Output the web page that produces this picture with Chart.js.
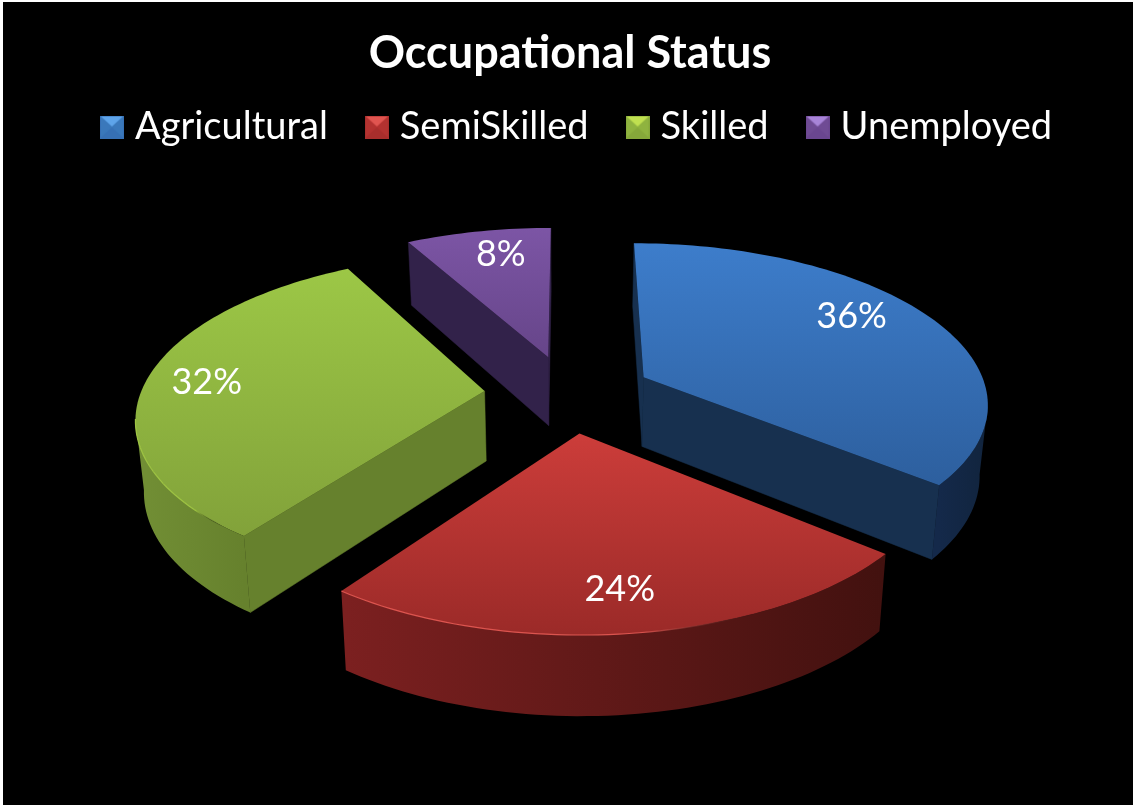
<!DOCTYPE html>
<html>
<head>
<meta charset="utf-8">
<title>Occupational Status</title>
<script src="https://cdn.jsdelivr.net/npm/chart.js@4/dist/chart.umd.min.js"></script>
<style>
  html, body { margin: 0; padding: 0; background: #fff; overflow: hidden; }
  #box { position: absolute; left: 3px; top: 2px; width: 1130px; height: 803px; background: #000; }
  canvas { display: block; }
</style>
</head>
<body>
<div id="box"><canvas id="pie" width="1130" height="803"></canvas></div>
<script>
const chartTitle = 'Occupational Status';
const categories = ['Agricultural', 'SemiSkilled', 'Skilled', 'Unemployed'];
const shares = [36, 24, 32, 8];

// slice colours: top face gradient, cut faces, outer wall gradient, rim line
const sliceBase = ['#3a78bb', '#b33230', '#8fb33f', '#6f4b94'];
const topFrom = ['#3d7dcb', '#cc3d3a', '#9cc746', '#7c55a5'];
const topTo = ['#2d5f9e', '#9b2a28', '#82a23a', '#664589'];
const cutColor = ['#17304f', '#4a1512', '#66812d', '#32224a'];
const wallFrom = ['#14294a', '#7c2020', '#728f35', '#32224a'];
const wallTo = ['#11243d', '#42110f', '#66812d', '#32224a'];
const rimColor = ['rgba(45,95,158,0)', 'rgba(232,90,84,0.9)', 'rgba(165,204,69,0.9)', 'rgba(124,85,165,0)'];
const swatchLight = ['#5ea4ea', '#e05550', '#c0e050', '#a884d8'];
const swatchDark = ['#3670b5', '#a82e2c', '#86a83a', '#6a4690'];
const labelShift = [[-22, -11], [-2, 2], [-6.5, -1], [10, 0]];

// camera fitted to the picture: perspective on a unit disc
const CX = 565.5, CY = 391.5, SX = 344, SY = 158.4, PERSP = 0.1486, DEPTH = 71.4, EXPLODE = 0.245;

function project(X, Y, down) {
  let w = 1 - PERSP * Y;
  if (down) w *= 1.02;
  return { x: CX + SX * X / w, y: CY + (SY * Y + (down ? DEPTH : 0)) / w };
}

function poly(ctx, pts) {
  ctx.beginPath();
  pts.forEach((p, i) => i ? ctx.lineTo(p.x, p.y) : ctx.moveTo(p.x, p.y));
  ctx.closePath();
}

function drawSlice(ctx, arc, i) {
  const mid = (arc.startAngle + arc.endAngle) / 2;
  const ox = EXPLODE * Math.cos(mid), oy = EXPLODE * Math.sin(mid);
  const rimAt = (a, down) => project(ox + Math.cos(a), oy + Math.sin(a), down);
  const apexT = project(ox, oy, false), apexB = project(ox, oy, true);

  const steps = Math.ceil((arc.endAngle - arc.startAngle) * 40);
  const angles = [];
  for (let s = 0; s <= steps; s++) angles.push(arc.startAngle + (arc.endAngle - arc.startAngle) * s / steps);

  // cut faces, only the ones turned to the viewer
  [[arc.startAngle, -1], [arc.endAngle, 1]].forEach(([a, sign]) => {
    const t = rimAt(a, false), b = rimAt(a, true);
    const cross = (t.x - apexT.x) * (b.y - t.y) - (t.y - apexT.y) * (b.x - t.x);
    if (cross * sign <= 0) return;
    poly(ctx, [apexT, t, b, apexB]);
    ctx.fillStyle = cutColor[i];
    ctx.fill();
    ctx.strokeStyle = cutColor[i];
    ctx.lineWidth = 0.5;
    ctx.stroke();
  });

  // outer wall, the part running right to left along the front
  const front = [];
  for (let s = 0; s < angles.length; s++) {
    const p = rimAt(angles[s], false);
    const n = rimAt(angles[Math.min(s + 1, angles.length - 1)], false);
    const q = rimAt(angles[Math.max(s - 1, 0)], false);
    if (n.x < p.x || q.x > p.x) front.push(angles[s]);
  }
  let up = [];
  if (front.length > 1) {
    up = front.map(a => rimAt(a, false));
    const low = front.map(a => rimAt(a, true)).reverse();
    const g = ctx.createLinearGradient(up[up.length - 1].x, 0, up[0].x, 0);
    g.addColorStop(0, wallFrom[i]);
    g.addColorStop(1, wallTo[i]);
    poly(ctx, up.concat(low));
    ctx.fillStyle = g;
    ctx.fill();
  }

  // top face
  const rim = angles.map(a => rimAt(a, false));
  const ys = rim.concat([apexT]).map(p => p.y);
  const g = ctx.createLinearGradient(0, Math.min(...ys), 0, Math.max(...ys));
  g.addColorStop(0, topFrom[i]);
  g.addColorStop(1, topTo[i]);
  poly(ctx, [apexT].concat(rim));
  ctx.fillStyle = g;
  ctx.fill();

  // light line on the front rim, fading out to the right
  if (up.length > 1) {
    const left = up[up.length - 1].x, right = up[0].x;
    const line = ctx.createLinearGradient(left, 0, right, 0);
    line.addColorStop(0, rimColor[i]);
    line.addColorStop(0.55, rimColor[i]);
    line.addColorStop(0.8, 'rgba(0,0,0,0)');
    ctx.beginPath();
    up.forEach((p, s) => s ? ctx.lineTo(p.x, p.y) : ctx.moveTo(p.x, p.y));
    ctx.strokeStyle = line;
    ctx.lineWidth = 1.2;
    ctx.stroke();
  }
}

const perspectivePie = {
  id: 'perspectivePie',
  afterLayout(chart) {
    // the legend and title sit a little right of the page centre in the reference
    chart.legend.left += 12;
    chart.legend.right += 12;
    chart.titleBlock.left += 2;
    chart.titleBlock.right += 2;
  },
  beforeDatasetDraw(chart) {
    const ctx = chart.ctx;
    const arcs = chart.getDatasetMeta(0).data;
    const depthOf = i => Math.sin((arcs[i].startAngle + arcs[i].endAngle) / 2);
    const order = arcs.map((a, i) => i).sort((a, b) => depthOf(a) - depthOf(b));
    ctx.save();
    order.forEach(i => drawSlice(ctx, arcs[i], i));
    ctx.fillStyle = '#fff';
    ctx.font = '36px Lato';
    ctx.textAlign = 'center';
    ctx.textBaseline = 'middle';
    arcs.forEach((arc, i) => {
      const mid = (arc.startAngle + arc.endAngle) / 2;
      const p = project((EXPLODE + 0.8) * Math.cos(mid), (EXPLODE + 0.8) * Math.sin(mid), false);
      ctx.fillText(shares[i] + '%', p.x + labelShift[i][0], p.y + labelShift[i][1]);
    });
    ctx.restore();
    return false;
  }
};

function makeSwatch(i) {
  const c = document.createElement('canvas');
  c.width = 24; c.height = 23;
  const x = c.getContext('2d');
  x.fillStyle = sliceBase[i];
  x.fillRect(0, 0, 24, 23);
  x.fillStyle = swatchLight[i];
  x.beginPath(); x.moveTo(1, 1); x.lineTo(23, 1); x.lineTo(12, 11); x.closePath(); x.fill();
  x.fillStyle = swatchDark[i];
  x.beginPath(); x.moveTo(1, 22); x.lineTo(23, 22); x.lineTo(12, 12); x.closePath(); x.fill();
  x.strokeStyle = swatchDark[i];
  x.lineWidth = 1;
  x.strokeRect(0.5, 0.5, 23, 22);
  return c;
}

new Chart(document.getElementById('pie'), {
  type: 'pie',
  data: {
    labels: categories,
    datasets: [{ data: shares, backgroundColor: sliceBase, borderWidth: 0 }]
  },
  options: {
    responsive: false,
    animation: false,
    devicePixelRatio: 1,
    layout: { padding: 0 },
    plugins: {
      tooltip: { enabled: false },
      title: {
        display: true,
        text: chartTitle,
        color: '#fff',
        font: { family: 'Lato', size: 45, weight: 'bold' },
        padding: { top: 24, bottom: -17 }
      },
      legend: {
        display: true,
        position: 'top',
        labels: {
          color: '#fff',
          font: { family: 'Lato', size: 38 },
          usePointStyle: true,
          boxWidth: 8,
          padding: 45,
          generateLabels: chart => categories.map((name, i) => ({
            text: name,
            fillStyle: sliceBase[i],
            strokeStyle: sliceBase[i],
            fontColor: '#fff',
            lineWidth: 0,
            pointStyle: makeSwatch(i),
            index: i
          }))
        }
      }
    }
  },
  plugins: [perspectivePie]
});
</script>
</body>
</html>
